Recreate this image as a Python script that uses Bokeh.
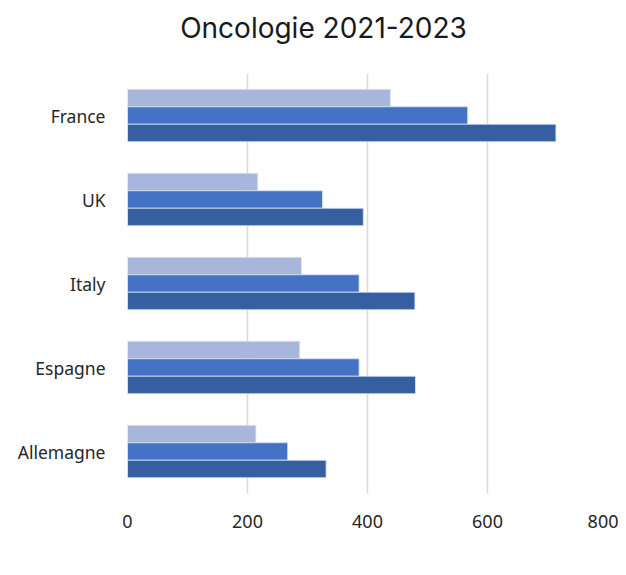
from bokeh.plotting import figure
from bokeh.models import FactorRange, Range1d, Legend, LegendItem, ColumnDataSource
from bokeh.transform import dodge
from bokeh.layouts import column
from bokeh.core.properties import value
from bokeh.embed import file_html
from bokeh.resources import INLINE

countries = ["Allemagne", "Espagne", "Italy", "UK", "France"]
v2021 = [331, 480, 479, 393, 714]
v2022 = [267, 386, 386, 325, 567]
v2023 = [214, 287, 290, 217, 438]
series = ["2023", "2022", "2021"]
colors = {"2023": "#A9B6DB", "2022": "#4472C4", "2021": "#365FA2"}
x_ticks = [0, 200, 400, 600, 800]
title_text = "Oncologie 2021-2023"

FRAME_W = 480
TITLE_H = 50

# title strip (its frame is aligned with the chart frame by the column layout)
pt = figure(frame_width=FRAME_W, frame_height=TITLE_H, x_range=Range1d(0, FRAME_W),
            y_range=Range1d(0, TITLE_H), output_backend="svg", toolbar_location=None,
            min_border=0)
pt.axis.visible = False
pt.grid.visible = False
pt.outline_line_color = None
pt.text(x=[196], y=[TITLE_H - 27], text=[title_text], text_font=value("Inter"),
        text_font_size="28px", text_align="center", text_baseline="alphabetic",
        text_color="#1a1a1a")

src = ColumnDataSource(dict(country=countries, y2021=v2021, y2022=v2022, y2023=v2023))

p = figure(frame_width=FRAME_W, frame_height=420, y_range=FactorRange(factors=countries),
           x_range=Range1d(0, 800), output_backend="svg", toolbar_location=None,
           min_border_left=127, min_border_right=11, min_border_top=73 - TITLE_H,
           min_border_bottom=0)
p.outline_line_color = None

bar_h = 0.208
offsets = {"2023": bar_h, "2022": 0.0, "2021": -bar_h}
renderers = {}
for s in series:
    renderers[s] = p.hbar(y=dodge("country", offsets[s], range=p.y_range), right="y" + s, left=0,
                          height=bar_h, source=src, fill_color=colors[s],
                          line_color="#DCE3F2", line_width=0.8)

p.xaxis.ticker = x_ticks
p.xaxis.axis_line_color = None
p.xaxis.major_tick_line_color = None
p.xaxis.minor_tick_line_color = None
p.xaxis.major_label_standoff = 15
p.xaxis.major_label_text_font = "Noto Sans"
p.xaxis.major_label_text_font_size = "18px"
p.xaxis.major_label_text_color = "#262626"

p.yaxis.axis_line_color = None
p.yaxis.major_tick_line_color = None
p.yaxis.minor_tick_line_color = None
p.yaxis.major_label_standoff = 16
p.yaxis.major_label_text_font = "Noto Sans"
p.yaxis.major_label_text_font_size = "17.5px"
p.yaxis.major_label_text_color = "#262626"

p.ygrid.grid_line_color = None
p.xgrid.grid_line_color = "#D9D9D9"
p.xgrid.grid_line_width = 1.5

legend = Legend(items=[LegendItem(label=s, renderers=[renderers[s]]) for s in series],
                orientation="horizontal", border_line_color=None, background_fill_alpha=0,
                location=(97, 0),
                label_text_font="Noto Sans", label_text_font_size="17.5px",
                label_text_color="#262626", glyph_width=11, glyph_height=11,
                spacing=19, label_standoff=6, margin=0, padding=0)
p.add_layout(legend, "below")

layout = column(pt, p, spacing=0)
open("out.html", "w").write(file_html(layout, INLINE))
